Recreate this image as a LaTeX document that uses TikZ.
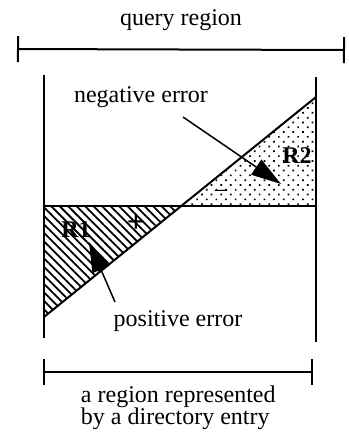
\documentclass[tikz,border=0pt]{standalone}
\usepackage{fontspec}
\setmainfont{Liberation Serif}
\usepackage{tikz}
\usetikzlibrary{arrows.meta,patterns.meta}
\lineskiplimit=-20pt

\begin{document}
\begin{tikzpicture}[x=0.5pt,y=-0.5pt,line width=1pt,
  every node/.style={font=\fontsize{12}{11}\selectfont,inner sep=0pt},
  span/.style={{Bar[width=13pt]}-{Bar[width=13pt]}},
  pointer/.style={-{Triangle[length=15pt,width=9pt]},line width=0.75pt},
  tag/.style={font=\fontsize{12}{12}\selectfont\bfseries}]
  \useasboundingbox (0,0) rectangle (349,435);

  % query region
  \coordinate (qa) at (17,49);
  \coordinate (qb) at (345,50);
  \draw[span] (qa) -- (qb);
  \node (query) at (181,20) {query region};

  % the cell and its two error parts
  \fill[pattern={Lines[angle=-45,distance=3pt,line width=0.9pt]}] (44,206) -- (181,206) -- (44,317) -- cycle;
  \fill[pattern={Dots[angle=45,distance=3.4pt,radius=0.6pt]}] (181,206) -- (316,206) -- (316,97) -- cycle;
  \draw (44,75) -- (44,338);
  \draw (316,77) -- (316,342);
  \draw (44,206) -- (316,206);
  \draw (44,317) -- (316,97);

  \node[tag] (r1) at (76,230) {R1};
  \node[tag] (r2) at (297,156) {R2};
  \node[font=\fontsize{16}{16}\selectfont\bfseries] (plus) at (136,223) {+};
  \node (minus) at (221,193) {\textendash};

  % labels and pointers
  \node (neg) at (141,97) {negative error};
  \coordinate (negtail) at (183,117);
  \coordinate (negtip) at (281,184);
  \draw[pointer] (negtail) -- (negtip);

  \node (pos) at (178,321) {positive error};
  \coordinate (postail) at (115,302);
  \coordinate (postip) at (89,242);
  \draw[pointer] (postail) -- (postip);

  % directory entry
  \coordinate (da) at (43,372);
  \coordinate (db) at (313,372);
  \draw[span] (da) -- (db);
  \node[anchor=north west,align=left] (entry) at (80,385) {a region represented\\by a directory entry};
\end{tikzpicture}
\end{document}
